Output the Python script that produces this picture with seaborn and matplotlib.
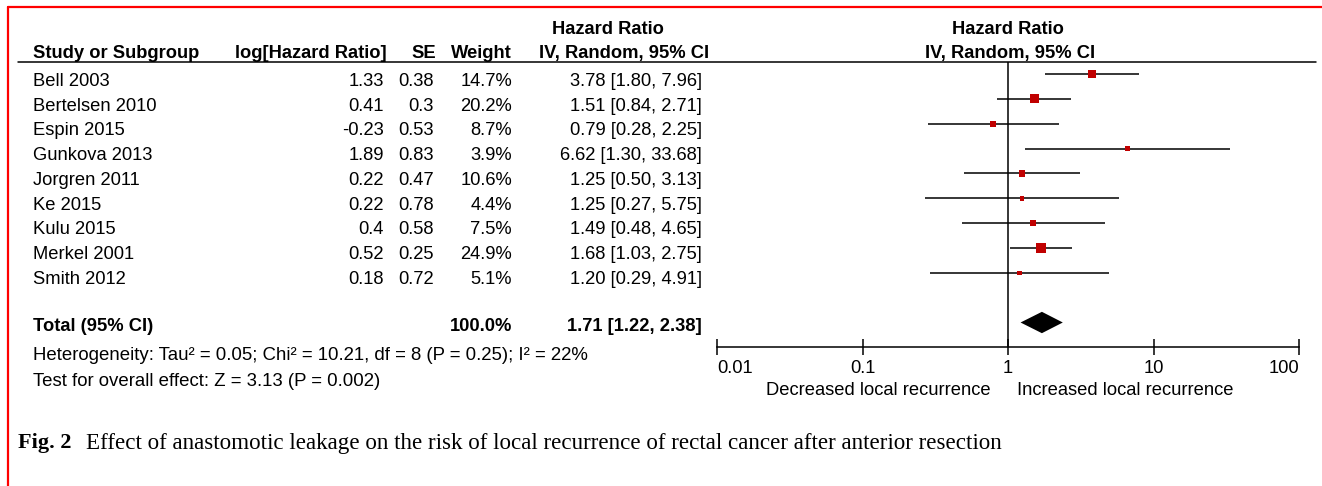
import numpy as np
import pandas as pd
import seaborn as sns
import matplotlib.pyplot as plt
from matplotlib.ticker import FixedLocator, NullLocator

# data
studies = ["Bell 2003", "Bertelsen 2010", "Espin 2015", "Gunkova 2013", "Jorgren 2011",
           "Ke 2015", "Kulu 2015", "Merkel 2001", "Smith 2012"]
log_hr = ["1.33", "0.41", "-0.23", "1.89", "0.22", "0.22", "0.4", "0.52", "0.18"]
se = ["0.38", "0.3", "0.53", "0.83", "0.47", "0.78", "0.58", "0.25", "0.72"]
weight = [14.7, 20.2, 8.7, 3.9, 10.6, 4.4, 7.5, 24.9, 5.1]
hr = [3.78, 1.51, 0.79, 6.62, 1.25, 1.25, 1.49, 1.68, 1.20]
ci_low = [1.80, 0.84, 0.28, 1.30, 0.50, 0.27, 0.48, 1.03, 0.29]
ci_high = [7.96, 2.71, 2.25, 33.68, 3.13, 5.75, 4.65, 2.75, 4.91]

total_hr, total_low, total_high = 1.71, 1.22, 2.38
total_weight = "100.0%"
heterogeneity = "Heterogeneity: Tau² = 0.05; Chi² = 10.21, df = 8 (P = 0.25); I² = 22%"
overall = "Test for overall effect: Z = 3.13 (P = 0.002)"

tick_vals = [0.01, 0.1, 1, 10, 100]
tick_labels = ["0.01", "0.1", "1", "10", "100"]

caption = "Effect of anastomotic leakage on the risk of local recurrence of rectal cancer after anterior resection"

df = pd.DataFrame({"study": studies, "hr": hr, "lo": ci_low, "hi": ci_high, "w": weight})
df["row"] = np.arange(len(df))

sns.set_theme(style="white")
plt.rcParams["font.family"] = ["Liberation Sans", "DejaVu Sans"]
plt.rcParams["text.color"] = "black"
plt.rcParams["xtick.color"] = "black"

W, H = 1322, 486
fig = plt.figure(figsize=(W / 100, H / 100), dpi=100)

# full-figure axes in pixel units for the table text
tab = fig.add_axes([0, 0, 1, 1])
tab.set_xlim(0, W)
tab.set_ylim(H, 0)
tab.axis("off")

fs = 13.2
red_sq = "#c00000"
serif = ["Liberation Serif", "DejaVu Serif"]

# red frame
tab.plot([8, 8], [7, H], color="red", lw=1.6, clip_on=False)
tab.plot([8, W], [7, 7], color="red", lw=1.6, clip_on=False)

# header line
tab.plot([18, 1316], [62, 62], color="black", lw=1.1)

# headers
hb = 58
tab.text(33, hb, "Study or Subgroup", fontsize=fs, fontweight="bold", va="baseline")
tab.text(387, hb, "log[Hazard Ratio]", fontsize=fs, fontweight="bold", va="baseline", ha="right")
tab.text(436, hb, "SE", fontsize=fs, fontweight="bold", va="baseline", ha="right")
tab.text(512, hb, "Weight", fontsize=fs, fontweight="bold", va="baseline", ha="right")
tab.text(709, hb, "IV, Random, 95% CI", fontsize=fs, fontweight="bold", va="baseline", ha="right")
tab.text(608, 29, "Hazard Ratio", fontsize=fs, fontweight="bold", va="center", ha="center")
tab.text(1008, 29, "Hazard Ratio", fontsize=fs, fontweight="bold", va="center", ha="center")
tab.text(1010, hb, "IV, Random, 95% CI", fontsize=fs, fontweight="bold", va="baseline", ha="center")

# study rows
for i, r in df.iterrows():
    y = 81.5 + 24.7 * i
    tab.text(33, y, r["study"], fontsize=fs, va="center")
    tab.text(384, y, log_hr[i], fontsize=fs, va="center", ha="right")
    tab.text(434, y, se[i], fontsize=fs, va="center", ha="right")
    tab.text(512, y, f"{r['w']:.1f}%", fontsize=fs, va="center", ha="right")
    tab.text(702, y, f"{r['hr']:.2f} [{r['lo']:.2f}, {r['hi']:.2f}]", fontsize=fs, va="center", ha="right")

# total + stats
ty = 326
tab.text(33, ty, "Total (95% CI)", fontsize=fs, fontweight="bold", va="center")
tab.text(512, ty, total_weight, fontsize=fs, fontweight="bold", va="center", ha="right")
tab.text(702, ty, f"{total_hr:.2f} [{total_low:.2f}, {total_high:.2f}]", fontsize=fs,
         fontweight="bold", va="center", ha="right")
tab.text(33, 355, heterogeneity, fontsize=13.4, va="center")
tab.text(33, 381, overall, fontsize=13.4, va="center")

tab.text(991, 390, "Decreased local recurrence", fontsize=fs, va="center", ha="right")
tab.text(1017, 390, "Increased local recurrence", fontsize=fs, va="center", ha="left")

# caption
tab.text(18, 443, "Fig. 2", fontsize=16, fontweight="bold", va="center", family=serif)
tab.text(86, 443, caption, fontsize=16.6, va="center", family=serif)

# forest plot axes
top_px, bot_px = 62, 347
row0, step = 74, 24.85
ax = fig.add_axes([717 / W, (H - bot_px) / H, 582 / W, (bot_px - top_px) / H])
ax.set_facecolor("none")
ax.set_xscale("log")
ax.set_xlim(0.01, 100)
ax.set_ylim((bot_px - row0) / step, (top_px - row0) / step)

ax.hlines(df["row"], df["lo"], df["hi"], color="black", lw=1.1, zorder=2)
ax.axvline(1, color="black", lw=1.1, zorder=1)

side_px = np.clip(2.0 * np.sqrt(df["w"]), 4.5, None)
sns.scatterplot(data=df, x="hr", y="row", marker="s", color=red_sq, linewidth=0,
                s=(side_px * 0.72) ** 2, ax=ax, zorder=3, legend=False)

# pooled estimate diamond
trow, dh = 10, 0.43
ax.fill([total_low, total_hr, total_high, total_hr], [trow, trow - dh, trow, trow + dh],
        color="black", lw=0, zorder=3)

for s in ["top", "left", "right"]:
    ax.spines[s].set_visible(False)
ax.spines["bottom"].set_color("black")
ax.spines["bottom"].set_linewidth(1.1)
ax.xaxis.set_major_locator(FixedLocator(tick_vals))
ax.xaxis.set_minor_locator(NullLocator())
ax.set_xticklabels(tick_labels, fontsize=fs)
ax.tick_params(axis="x", direction="inout", length=11, width=1.1, pad=4, color="black",
               bottom=True)
labels = ax.get_xticklabels()
labels[0].set_ha("left")
labels[-1].set_ha("right")
ax.set_yticks([])
ax.set_xlabel("")
ax.set_ylabel("")

fig.savefig("out.png", dpi=100)
